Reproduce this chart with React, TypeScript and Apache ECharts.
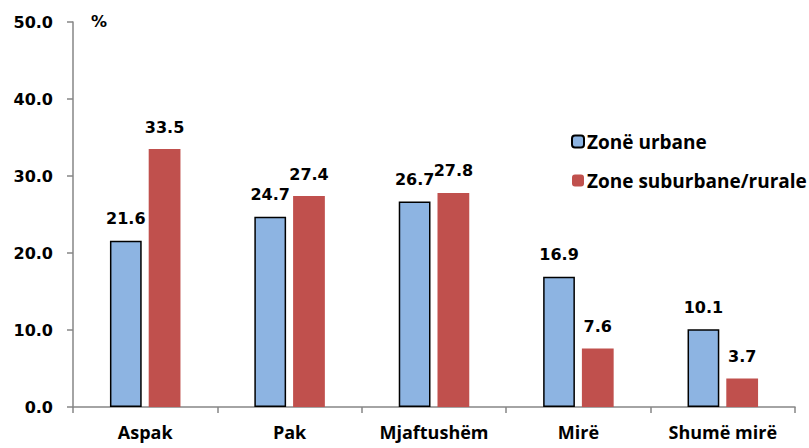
import React, { useEffect, useRef } from "react";
import * as echarts from "echarts";

const categories = ["Aspak", "Pak", "Mjaftushëm", "Mirë", "Shumë mirë"];
const urbane = [21.6, 24.7, 26.7, 16.9, 10.1];
const rurale = [33.5, 27.4, 27.8, 7.6, 3.7];
const seriesNames = ["Zonë urbane", "Zone suburbane/rurale"];

export default function App() {
  const ref = useRef<HTMLDivElement>(null);
  useEffect(() => {
    const chart = echarts.init(ref.current!, null, { renderer: "svg" });
    const labelStyle = {
      show: true,
      position: "top" as const,
      distance: 14,
      fontFamily: "DejaVu Sans",
      fontWeight: "bold" as const,
      fontSize: 16,
      color: "#000",
      formatter: (p: any) => p.value.toFixed(1),
    };
    chart.setOption({
      animation: false,
      backgroundColor: "#fff",
      grid: { left: 73, right: 14, top: 22, bottom: 41 },
      legend: {
        orient: "vertical",
        left: 566,
        top: 127,
        itemGap: 20,
        itemWidth: 12,
        itemHeight: 12,
        textStyle: { fontFamily: "Open Sans", fontWeight: "bold", fontSize: 19, color: "#000", padding: [0, 0, 0, -2] },
        data: seriesNames,
      },
      graphic: [
        {
          type: "text",
          left: 91,
          top: 13,
          style: { text: "%", fontFamily: "DejaVu Sans", fontWeight: "bold", fontSize: 16, fill: "#000" },
        },
      ],
      xAxis: {
        type: "category",
        data: categories,
        axisLine: { lineStyle: { color: "#868686", width: 1.5 } },
        axisTick: { show: true, length: 6, lineStyle: { color: "#868686", width: 1.5 } },
        axisLabel: {
          margin: 16,
          fontFamily: "Open Sans",
          fontWeight: "bold",
          fontSize: 18,
          color: "#000",
        },
      },
      yAxis: {
        type: "value",
        min: 0,
        max: 50,
        interval: 10,
        splitLine: { show: false },
        axisLine: { show: true, lineStyle: { color: "#868686", width: 1.5 } },
        axisTick: { show: true, length: 6, lineStyle: { color: "#868686", width: 1.5 } },
        axisLabel: {
          margin: 20,
          fontFamily: "DejaVu Sans",
          fontWeight: "bold",
          fontSize: 16,
          color: "#000",
          formatter: (v: number) => v.toFixed(1),
        },
      },
      series: [
        {
          name: seriesNames[0],
          type: "bar",
          data: urbane,
          barWidth: "22%",
          barGap: "22%",
          itemStyle: { color: "#8DB4E2", borderColor: "#000", borderWidth: 1.5 },
          label: labelStyle,
        },
        {
          name: seriesNames[1],
          type: "bar",
          data: rurale,
          barWidth: "22%",
          itemStyle: { color: "#C0504D" },
          label: labelStyle,
        },
      ],
    });
    return () => chart.dispose();
  }, []);
  return <div ref={ref} style={{ width: 809, height: 448, position: "absolute", left: 0, top: 0 }} />;
}
